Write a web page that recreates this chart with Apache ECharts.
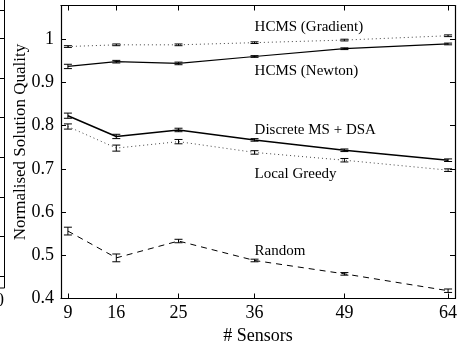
<!DOCTYPE html>
<html>
<head>
<meta charset="utf-8">
<script src="https://cdn.jsdelivr.net/npm/echarts@6/dist/echarts.min.js"></script>
<style>
html,body{margin:0;padding:0;background:#fff;}
#chart{width:469px;height:345px;}
</style>
</head>
<body>
<div id="chart"></div>
<script>
// ---- data ----
const sensors = [9, 16, 25, 36, 49, 64];
const yTicks = [0.4, 0.5, 0.6, 0.7, 0.8, 0.9, 1.0];
const seriesNames = ['HCMS (Gradient)', 'HCMS (Newton)', 'Discrete MS + DSA', 'Local Greedy', 'Random'];
const gradient    = [0.983, 0.987, 0.987, 0.992, 0.998, 1.008];
const gradientErr = [0.002, 0.002, 0.002, 0.002, 0.002, 0.002];
const newton      = [0.937, 0.948, 0.944, 0.960, 0.978, 0.989];
const newtonErr   = [0.005, 0.003, 0.003, 0.002, 0.002, 0.002];
const discrete    = [0.823, 0.775, 0.790, 0.767, 0.743, 0.720];
const discreteErr = [0.006, 0.005, 0.004, 0.003, 0.003, 0.003];
const greedy      = [0.798, 0.748, 0.763, 0.738, 0.720, 0.697];
const greedyErr   = [0.006, 0.007, 0.005, 0.004, 0.004, 0.003];
const random      = [0.556, 0.494, 0.533, 0.488, 0.457, 0.418];
const randomErr   = [0.009, 0.009, 0.004, 0.003, 0.003, 0.004];
const xTitle = '# Sensors';
const yTitle = 'Normalised Solution Quality';

const FONT = '"Liberation Serif", "DejaVu Serif", serif';
const chart = echarts.init(document.getElementById('chart'), null, {renderer: 'canvas'});

function pairs(vals) { return sensors.map((s, i) => [s, vals[i]]); }
function errData(vals, errs) { return sensors.map((s, i) => [s, vals[i] - errs[i], vals[i] + errs[i]]); }

function lineSeries(name, vals, lineStyle, labelAt) {
  return {
    name: name, type: 'line', data: pairs(vals), symbol: 'none', z: 2,
    lineStyle: lineStyle, silent: true, animation: false,
    markPoint: {
      symbol: 'circle', symbolSize: 0, animation: false, silent: true,
      data: [{coord: labelAt}],
      label: {show: true, position: 'right', distance: 0, formatter: name,
              color: '#000', fontSize: 15, fontFamily: FONT}
    }
  };
}
function errSeries(vals, errs) {
  return {
    type: 'custom', data: errData(vals, errs), z: 3, silent: true, animation: false,
    encode: {x: 0, y: [1, 2]},
    renderItem: function (params, api) {
      const x = api.value(0);
      const lo = api.coord([x, api.value(1)]);
      const hi = api.coord([x, api.value(2)]);
      const w = 4;
      const st = {stroke: '#000', lineWidth: 1, fill: null};
      return {type: 'group', children: [
        {type: 'line', shape: {x1: lo[0], y1: lo[1], x2: hi[0], y2: hi[1]}, style: st},
        {type: 'line', shape: {x1: lo[0] - w, y1: lo[1], x2: lo[0] + w, y2: lo[1]}, style: st},
        {type: 'line', shape: {x1: hi[0] - w, y1: hi[1], x2: hi[0] + w, y2: hi[1]}, style: st}
      ]};
    }
  };
}

const axisLineStyle = {color: '#000', width: 1.2};
const tickStyle = {color: '#000', width: 1};

// neighbour-figure fragment on the left edge + y title
const gfx = [];
gfx.push({type: 'line', shape: {x1: 4.5, y1: 0, x2: 4.5, y2: 288}, style: {stroke: '#000', lineWidth: 1}});
gfx.push({type: 'line', shape: {x1: 0, y1: 288, x2: 4.5, y2: 288}, style: {stroke: '#000', lineWidth: 1}});
[10, 38, 78, 117, 157, 197, 236, 276].forEach(function (y) {
  gfx.push({type: 'line', shape: {x1: 0, y1: y + 0.5, x2: 4.5, y2: y + 0.5}, style: {stroke: '#000', lineWidth: 1}});
});
gfx.push({type: 'text', x: 4, y: 301, style: {text: '0', fontSize: 18, fontFamily: FONT, fill: '#000', align: 'right', verticalAlign: 'middle'}});
gfx.push({type: 'text', x: 21, y: 142, rotation: Math.PI / 2,
  style: {text: yTitle, fontSize: 17, fontFamily: FONT, fill: '#000', align: 'center', verticalAlign: 'middle'}});

const option = {
  backgroundColor: '#fff',
  animation: false,
  grid: {left: 61, right: 14, top: 5.5, bottom: 46.5, containLabel: false, outerBoundsMode: 'none'},
  xAxis: [{
    type: 'value', min: 8, max: 65, position: 'bottom',
    axisLine: {show: true, onZero: false, lineStyle: axisLineStyle},
    axisTick: {show: true, inside: true, length: 5, lineStyle: tickStyle, customValues: sensors},
    axisLabel: {show: true, customValues: sensors, color: '#000', fontSize: 18, fontFamily: FONT, margin: 6},
    splitLine: {show: false},
    name: xTitle, nameLocation: 'middle', nameGap: 22,
    nameTextStyle: {color: '#000', fontSize: 18, fontFamily: FONT}
  }, {
    type: 'value', min: 8, max: 65, position: 'top',
    axisLine: {show: true, onZero: false, lineStyle: axisLineStyle},
    axisTick: {show: true, inside: true, length: 5, lineStyle: tickStyle, customValues: sensors},
    axisLabel: {show: false}, splitLine: {show: false}
  }],
  yAxis: [{
    type: 'value', min: 0.4, max: 1.078, position: 'left',
    axisLine: {show: true, onZero: false, lineStyle: axisLineStyle},
    axisTick: {show: true, inside: true, length: 5, lineStyle: tickStyle, customValues: yTicks},
    axisLabel: {show: true, customValues: yTicks, color: '#000', fontSize: 18, fontFamily: FONT, margin: 7},
    splitLine: {show: false}
  }, {
    type: 'value', min: 0.4, max: 1.078, position: 'right',
    axisLine: {show: true, onZero: false, lineStyle: axisLineStyle},
    axisTick: {show: true, inside: true, length: 5, lineStyle: tickStyle, customValues: yTicks},
    axisLabel: {show: false}, splitLine: {show: false}
  }],
  graphic: gfx,
  series: [
    lineSeries(seriesNames[0], gradient, {color: '#444', width: 1, type: [1, 3]}, [36, 1.028]),
    errSeries(gradient, gradientErr),
    lineSeries(seriesNames[1], newton, {color: '#000', width: 1.2, type: 'solid'}, [36, 0.927]),
    errSeries(newton, newtonErr),
    lineSeries(seriesNames[2], discrete, {color: '#000', width: 1.5, type: 'solid'}, [36, 0.789]),
    errSeries(discrete, discreteErr),
    lineSeries(seriesNames[3], greedy, {color: '#444', width: 1, type: [1, 3]}, [36, 0.689]),
    errSeries(greedy, greedyErr),
    lineSeries(seriesNames[4], random, {color: '#000', width: 1, type: [6, 5]}, [36, 0.509]),
    errSeries(random, randomErr)
  ]
};
chart.setOption(option);
</script>
</body>
</html>
